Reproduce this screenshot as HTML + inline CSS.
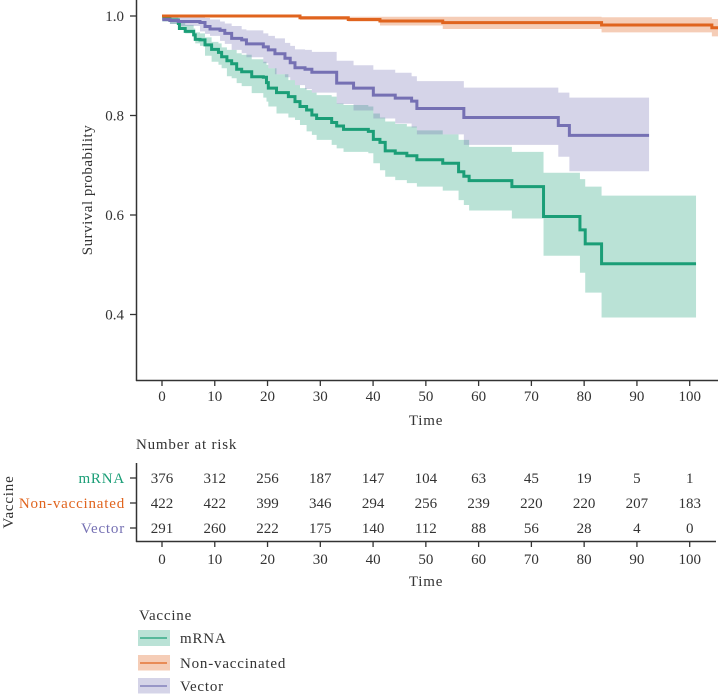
<!DOCTYPE html>
<html lang="en">
<head>
<meta charset="utf-8">
<title>Survival by vaccine</title>
<style>
html,body{margin:0;padding:0;background:#fff;width:718px;height:694px;overflow:hidden}
svg{display:block}
text{font-family:"Liberation Serif",serif;font-size:15px;fill:#333;letter-spacing:.8px}
.num{letter-spacing:0}
</style>
</head>
<body>
<svg id="chart" width="718" height="694" viewBox="0 0 718 694" xmlns="http://www.w3.org/2000/svg">
  <g id="bands"></g>
  <g id="lines"></g>
  <line x1="136.5" y1="0" x2="136.5" y2="381" stroke="#333" stroke-width="1.5"/>
  <line x1="136" y1="380.5" x2="718" y2="380.5" stroke="#333" stroke-width="1.5"/>
  <g id="main-ticks"></g>
  <text transform="translate(92,190) rotate(-90)" text-anchor="middle" style="letter-spacing:.5px">Survival probability</text>
  <text x="426" y="425" text-anchor="middle">Time</text>

  <text x="136" y="449">Number at risk</text>
  <line x1="136.5" y1="463" x2="136.5" y2="542" stroke="#333" stroke-width="1.5"/>
  <line x1="136" y1="541.5" x2="716" y2="541.5" stroke="#333" stroke-width="1.5"/>
  <g id="risk-table"></g>
  <text x="426" y="586" text-anchor="middle">Time</text>
  <text transform="translate(13,502) rotate(-90)" text-anchor="middle">Vaccine</text>

  <g>
    <text x="139" y="620">Vaccine</text>
    <g>
      <rect x="138" y="630" width="32" height="16" fill="#1b9e77" fill-opacity=".3"/>
      <line x1="140" y1="638" x2="167" y2="638" stroke="#1b9e77" stroke-width="1.3"/>
      <text x="180" y="643">mRNA</text>
    </g>
    <g>
      <rect x="138" y="655" width="32" height="15.500" fill="#e0641e" fill-opacity=".32"/>
      <line x1="140" y1="663" x2="167" y2="663" stroke="#e0641e" stroke-width="1.3"/>
      <text x="180" y="668">Non-vaccinated</text>
    </g>
    <g>
      <rect x="138" y="678" width="32" height="15.500" fill="#7570b3" fill-opacity=".3"/>
      <line x1="140" y1="686" x2="167" y2="686" stroke="#7570b3" stroke-width="1.3"/>
      <text x="180" y="691">Vector</text>
    </g>
  </g>
</svg>
<script>
// Data
const xTicks = [0,10,20,30,40,50,60,70,80,90,100];
const yTicks = [0.4,0.6,0.8,1.0];

const mrnaTime = [0.06,1.5,3.1,3.3,4.4,6,6.3,7.2,8.15,9.4,10.7,11.3,12.3,13.2,14.15,15.1,17,19.2,19.8,20.15,21.7,23.95,25.2,26.15,27.4,28.4,29.3,32.15,33.1,34.4,39.1,40.05,41.3,42.3,44.2,46.4,48.3,53.2,56.2,57.2,58.2,66.3,72.3,79.2,80.2,83.3];
const mrnaSurv = [.995,.992,.985,.975,.969,.962,.953,.952,.942,.933,.927,.918,.910,.904,.893,.888,.878,.877,.866,.855,.846,.838,.828,.818,.811,.801,.794,.786,.779,.772,.768,.752,.746,.729,.724,.719,.711,.704,.687,.678,.669,.657,.597,.570,.542,.502];
const mrnaLower = [.989,.984,.975,.972,.965,.957,.945,.940,.920,.908,.902,.895,.879,.875,.865,.859,.845,.836,.828,.818,.804,.796,.791,.781,.768,.761,.751,.741,.734,.727,.724,.704,.690,.677,.670,.664,.657,.649,.630,.620,.609,.593,.518,.484,.444,.394];
const mrnaUpper = [1.0,.997,.992,.988,.982,.975,.967,.965,.957,.948,.945,.937,.932,.932,.925,.922,.913,.908,.902,.895,.883,.871,.861,.855,.851,.846,.841,.838,.824,.821,.818,.804,.796,.788,.783,.778,.770,.762,.751,.751,.737,.727,.685,.672,.657,.639];
const mrnaEnd = 101.2;

const vectorTime = [0.06,1.5,3.1,7.2,8.15,9.1,11,11.9,13.2,15.1,16,19.2,20.15,21.4,23.3,24.3,25.2,27.1,28.4,33.1,36.3,40.05,44.2,47.3,48.3,57.2,75.1,77.2];
const vectorSurv = [.993,.991,.989,.987,.979,.974,.971,.965,.955,.952,.944,.938,.932,.924,.915,.906,.896,.893,.887,.865,.855,.841,.835,.829,.814,.796,.780,.760];
const vectorLower = [.989,.984,.980,.969,.964,.960,.950,.944,.932,.925,.917,.905,.895,.883,.877,.871,.861,.853,.846,.823,.810,.794,.784,.776,.762,.741,.717,.688];
const vectorUpper = [1.0,.999,.9986,.998,.996,.993,.989,.985,.980,.973,.971,.965,.960,.955,.946,.940,.933,.932,.928,.910,.901,.892,.886,.879,.869,.856,.846,.836];
const vectorEnd = 92.3;

const orangeTime = [0,26.15,35.3,41.3,53.2,83.3,104.2];
const orangeSurv = [1.0,.9966,.993,.990,.9866,.982,.9765];
const orangeLower = [.9986,.992,.989,.981,.974,.967,.959];
const orangeUpper = [1.0,.999,.9985,.9985,.9985,.9975,.994];
const orangeEnd = 105.4;

const riskGroups = ["mRNA","Non-vaccinated","Vector"];
const riskMrna = [376,312,256,187,147,104,63,45,19,5,1];
const riskNonVaccinated = [422,422,399,346,294,256,239,220,220,207,183];
const riskVector = [291,260,222,175,140,112,88,56,28,4,0];

// Axis functions
const NS = "http://www.w3.org/2000/svg";
function sx(t){ return 162 + t * 5.277; }
function sy(s){ return 16 + (1 - s) * 497.5; }
function rowY(i){ return 478 + i * 25; }

function make(tag, attrs, parent){
  const el = document.createElementNS(NS, tag);
  for (const k in attrs) el.setAttribute(k, attrs[k]);
  parent.appendChild(el);
  return el;
}
function stepPoints(time, vals, end){
  const pts = [];
  for (let i = 0; i < time.length; i++){
    const next = i + 1 < time.length ? time[i + 1] : end;
    pts.push([sx(time[i]), sy(vals[i])]);
    pts.push([sx(next), sy(vals[i])]);
  }
  return pts;
}
function toD(pts){
  return pts.map(function(p, i){ return (i ? "L" : "M") + p[0].toFixed(2) + " " + p[1].toFixed(2); }).join("");
}

const bandsG = document.getElementById("bands");
const linesG = document.getElementById("lines");

function drawSeries(key, color, opacity, time, surv, lower, upper, end){
  const up = stepPoints(time, upper, end);
  const lo = stepPoints(time, lower, end).reverse();
  const band = make("path", {d: toD(up.concat(lo)) + "Z", fill: color, "fill-opacity": opacity}, bandsG);
  
  
  const line = make("path", {d: toD(stepPoints(time, surv, end)), fill: "none", stroke: color, "stroke-width": 3, "stroke-linejoin": "miter"}, linesG);
  
  
}
drawSeries("mrna", "#1b9e77", .3, mrnaTime, mrnaSurv, mrnaLower, mrnaUpper, mrnaEnd);
drawSeries("vector", "#7570b3", .3, vectorTime, vectorSurv, vectorLower, vectorUpper, vectorEnd);
drawSeries("non-vaccinated", "#e0641e", .32, orangeTime, orangeSurv, orangeLower, orangeUpper, orangeEnd);

const mainTicks = document.getElementById("main-ticks");
xTicks.forEach(function(v){
  const t = make("line", {x1: sx(v), x2: sx(v), y1: 381, y2: 386, stroke: "#333", "stroke-width": 1.3}, mainTicks);
  
  
  const l = make("text", {x: sx(v), y: 401, "text-anchor": "middle", "class": "num"}, mainTicks);
  
  
  l.textContent = String(v);
});
yTicks.forEach(function(v){
  const t = make("line", {x1: 130, x2: 136, y1: sy(v), y2: sy(v), stroke: "#333", "stroke-width": 1.3}, mainTicks);
  
  
  const l = make("text", {x: 124, y: sy(v) + 5, "text-anchor": "end", "class": "num"}, mainTicks);
  
  
  l.textContent = v.toFixed(1);
});

const riskG = document.getElementById("risk-table");
const riskRows = [riskMrna, riskNonVaccinated, riskVector];
const riskColors = ["#1b9e77", "#e0641e", "#7570b3"];
riskGroups.forEach(function(name, i){
  const t = make("line", {x1: 130, x2: 136, y1: rowY(i), y2: rowY(i), stroke: "#333", "stroke-width": 1.3}, riskG);
  
  
  const l = make("text", {x: 125, y: rowY(i) + 5, "text-anchor": "end", style: "fill:" + riskColors[i]}, riskG);
  
  
  l.textContent = name;
  riskRows[i].forEach(function(n, j){
    const c = make("text", {x: sx(xTicks[j]), y: rowY(i) + 5, "text-anchor": "middle", "class": "num"}, riskG);
    
    
    c.textContent = String(n);
  });
});
xTicks.forEach(function(v){
  const t = make("line", {x1: sx(v), x2: sx(v), y1: 542, y2: 547, stroke: "#333", "stroke-width": 1.3}, riskG);
  
  
  const l = make("text", {x: sx(v), y: 564, "text-anchor": "middle", "class": "num"}, riskG);
  
  
  l.textContent = String(v);
});
</script>
</body>
</html>
